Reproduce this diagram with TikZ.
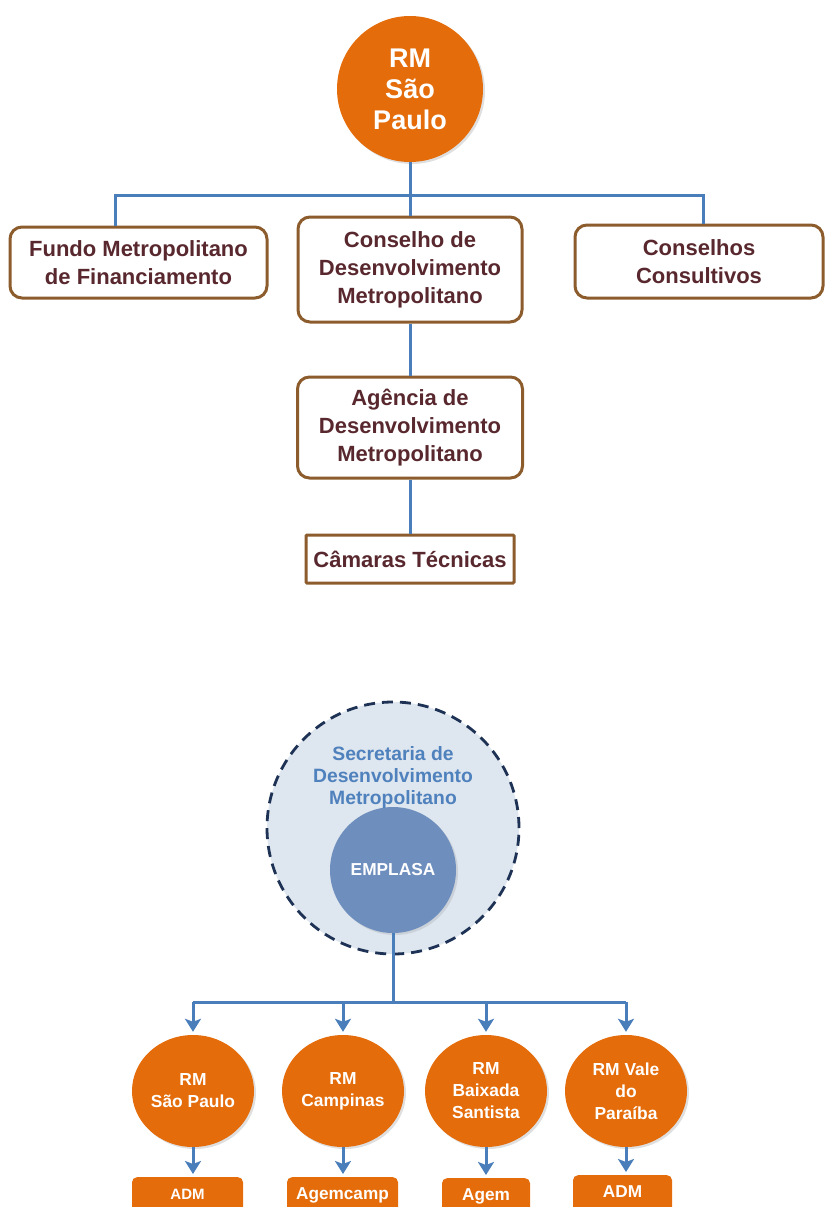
\documentclass[tikz,border=0pt]{standalone}
\usepackage{fontspec}
\setmainfont{Liberation Sans}
\usetikzlibrary{arrows.meta,shadows,shapes.geometric,calc}
\definecolor{orng}{RGB}{228,108,10}
\definecolor{lnblue}{RGB}{74,126,187}
\definecolor{brownb}{RGB}{140,92,45}
\definecolor{boxtext}{RGB}{88,40,46}
\definecolor{secfill}{RGB}{222,230,239}
\definecolor{secline}{RGB}{30,50,85}
\definecolor{empfill}{RGB}{110,143,190}
\definecolor{sectext}{RGB}{79,129,189}
\begin{document}
\begin{tikzpicture}[x=1pt,y=-1pt,
  conn/.style={draw=lnblue, line width=3pt},
  arr/.style={conn, -{Stealth[width=16pt,length=13pt,inset=3pt]}},
  brbox/.style={draw=brownb, line width=3pt, rounded corners=12pt, fill=white,
    text=boxtext, font=\bfseries\fontsize{22}{28}\selectfont, align=center, inner sep=0pt},
  orcircle/.style={circle, fill=orng, text=white, align=center, inner sep=0pt,
    drop shadow={shadow xshift=2pt, shadow yshift=-2pt, opacity=0.25}},
  orell/.style={ellipse, fill=orng, text=white, align=center, inner sep=0pt,
    minimum width=122pt, minimum height=112pt,
    font=\bfseries\fontsize{17.4}{22}\selectfont,
    drop shadow={shadow xshift=2pt, shadow yshift=-2pt, opacity=0.25}},
  orbox/.style={rectangle, rounded corners=5pt, fill=orng, text=white, anchor=north,
    inner ysep=10pt, inner xsep=0pt, text height=12.2pt, text depth=8pt,
    font=\bfseries\fontsize{17.2}{20}\selectfont}
]
\useasboundingbox (0,0) rectangle (825,1207);
\clip (0,0) rectangle (825,1207);

% ---------- top chart ----------
\node[orcircle, minimum size=146pt, font=\bfseries\fontsize{27}{31}\selectfont] (rm) at (410,89) {RM\\São\\Paulo};
\node[brbox, minimum width=257pt, minimum height=71pt] (fundo) at (138.5,262.5) {Fundo Metropolitano\\de Financiamento};
\node[brbox, minimum width=224pt, minimum height=105pt] (cons) at (410,269.5) {Conselho de\\Desenvolvimento\\Metropolitano};
\node[brbox, minimum width=248pt, minimum height=73pt] (consult) at (699,261.5) {Conselhos\\Consultivos};
\node[brbox, minimum width=225pt, minimum height=101pt] (agen) at (410,427.5) {Agência de\\Desenvolvimento\\Metropolitano};
\node[brbox, rounded corners=1pt, minimum width=208pt, minimum height=48pt] (cam) at (410,559) {Câmaras Técnicas};

\coordinate (bus) at (410,195);
\draw[conn] (rm.south) -- (cons.north);
\draw[conn] ([xshift=-23.5pt]fundo.north) |- (bus) -| ([xshift=4pt]consult.north);
\draw[conn] (cons.south) -- (agen.north);
\draw[conn] (agen.south) -- (cam.north);

% ---------- bottom chart ----------
\node[circle, draw=secline, fill=secfill, line width=2.8pt, dash pattern=on 11pt off 7pt,
  minimum size=252pt, inner sep=0pt] (sec) at (393,828) {};
\node[circle, fill=empfill, minimum size=126pt, inner sep=0pt, text=white,
  font=\bfseries\fontsize{17.3}{20}\selectfont,
  drop shadow={shadow xshift=2pt, shadow yshift=-2pt, opacity=0.2}] (emp) at (393,870) {EMPLASA};
\node[text=sectext, align=center, font=\bfseries\fontsize{19.3}{22}\selectfont] (sect) at (393,778) {Secretaria de\\Desenvolvimento\\Metropolitano};

\node[orell] (c1) at (193,1091) {RM\\São Paulo};
\node[orell] (c2) at (343,1091) {RM\\Campinas};
\node[orell] (c3) at (486,1091) {RM\\Baixada\\Santista};
\node[orell] (c4) at (626,1091) {RM Vale\\do\\Paraíba};

\node[orbox, minimum width=111pt, font=\bfseries\fontsize{15}{18}\selectfont] (b1) at (187.5,1177) {ADM};
\node[orbox, minimum width=111pt] (b2) at (342.5,1177) {Agemcamp};
\node[orbox, minimum width=88pt] (b3) at (486,1178) {Agem};
\node[orbox, minimum width=99pt] (b4) at (622.5,1175) {ADM};

\coordinate (bus2) at (393,1002);
\draw[conn] (emp.south) -- (bus2);
\draw[conn] (bus2 -| c1.north) -- (bus2 -| c4.north);
\draw[arr] (bus2 -| c1.north) -- ([yshift=3pt]c1.north);
\draw[arr] (bus2 -| c2.north) -- ([yshift=3pt]c2.north);
\draw[arr] (bus2 -| c3.north) -- ([yshift=3pt]c3.north);
\draw[arr] (bus2 -| c4.north) -- ([yshift=3pt]c4.north);
\draw[arr] (c1.south) -- ([yshift=3pt]c1.south |- b1.north);
\draw[arr] (c2.south) -- ([yshift=3pt]c2.south |- b2.north);
\draw[arr] (c3.south) -- ([yshift=3pt]c3.south |- b3.north);
\draw[arr] (c4.south) -- ([yshift=3pt]c4.south |- b4.north);
\end{tikzpicture}
\end{document}
